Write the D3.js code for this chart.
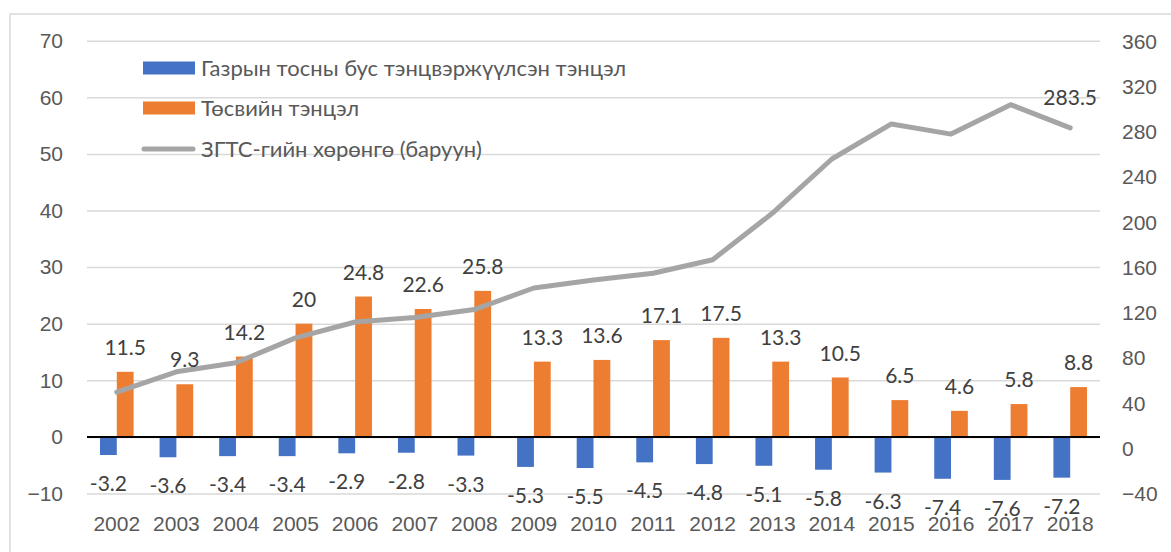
<!DOCTYPE html>
<html>
<head>
<meta charset="utf-8">
<title>Fiscal balance and FSF assets</title>
<style>
body { margin: 0; background: #fff; }
svg { font-family: Lato, "Noto Sans", sans-serif; }
.axis text { fill: #595959; font-size: 21px; }
.axis path { display: none; }
.grid line { stroke: #d9d9d9; stroke-width: 1.5px; }
.label { fill: #404040; font-size: 21px; text-anchor: middle; }
.legend text { fill: #595959; font-size: 22px; }
</style>
</head>
<body>
<script src="https://cdn.jsdelivr.net/npm/d3@7"></script>
<script>
var years = ["2002","2003","2004","2005","2006","2007","2008","2009","2010",
             "2011","2012","2013","2014","2015","2016","2017","2018"];
var nonOil = [-3.2,-3.6,-3.4,-3.4,-2.9,-2.8,-3.3,-5.3,-5.5,-4.5,-4.8,-5.1,-5.8,-6.3,-7.4,-7.6,-7.2];
var budget = [11.5,9.3,14.2,20,24.8,22.6,25.8,13.3,13.6,17.1,17.5,13.3,10.5,6.5,4.6,5.8,8.8];
var assets = [50,68,76,98,112,116,123,142,149,155,167,208,256,287,278,304,283.5];
var leftTicks = [-10,0,10,20,30,40,50,60,70];
var rightTicks = [-40,0,40,80,120,160,200,240,280,320,360];
var seriesNames = ["Газрын тосны бус тэнцвэржүүлсэн тэнцэл", "Төсвийн тэнцэл", "ЗГТС-гийн хөрөнгө (баруун)"];

var W = 1171, H = 552;
var left = 87, right = 1100;

var svg = d3.select("body").append("svg")
    .attr("width", W)
    .attr("height", H);

// chart frame (right and bottom edges fall outside the picture)
svg.append("rect")
    .attr("x", 10).attr("y", 14)
    .attr("width", 1200).attr("height", 600)
    .style("fill", "none")
    .style("stroke", "#d9d9d9")
    .style("stroke-width", 1.5);

var x = d3.scaleBand().domain(years).range([left, right]);
var bw = x.bandwidth();
var barW = bw * 0.282;
var x1 = d3.scaleBand().domain(["nonOil","budget"]).range([bw/2 - barW, bw/2 + barW]);

var yL = d3.scaleLinear().domain([-10, 70]).range([493.5, 40.7]);
var yR = d3.scaleLinear().domain([-40, 360]).range([494, 41.3]);

// left axis + gridlines
svg.append("g")
    .attr("class", "axis grid")
    .attr("transform", "translate(" + left + ",0)")
    .call(d3.axisLeft(yL).tickValues(leftTicks).tickSize(-(right - left)).tickPadding(24));

// right axis
svg.append("g")
    .attr("class", "axis")
    .attr("transform", "translate(" + right + ",0)")
    .call(d3.axisRight(yR).tickValues(rightTicks).tickSize(0).tickPadding(22));

// x axis labels
svg.append("g")
    .attr("class", "axis")
    .attr("transform", "translate(0,516)")
    .call(d3.axisBottom(x).tickSize(0).tickPadding(0));

// bars
var rows = years.map(function(y, i) { return {year: y, nonOil: nonOil[i], budget: budget[i], assets: assets[i]}; });

svg.selectAll(".bar-nonoil")
    .data(rows)
  .enter().append("rect")
    .attr("class", "bar-nonoil")
    .attr("x", function(d) { return x(d.year) + x1("nonOil"); })
    .attr("width", x1.bandwidth())
    .attr("y", yL(0))
    .attr("height", function(d) { return yL(d.nonOil) - yL(0); })
    .style("fill", "#4472c4");

svg.selectAll(".bar-budget")
    .data(rows)
  .enter().append("rect")
    .attr("class", "bar-budget")
    .attr("x", function(d) { return x(d.year) + x1("budget"); })
    .attr("width", x1.bandwidth())
    .attr("y", function(d) { return yL(d.budget); })
    .attr("height", function(d) { return yL(0) - yL(d.budget); })
    .style("fill", "#ed7d31");

// zero line
svg.append("line")
    .attr("x1", left).attr("x2", right)
    .attr("y1", yL(0)).attr("y2", yL(0))
    .style("stroke", "#000")
    .style("stroke-width", 2);

// assets line
var line = d3.line()
    .x(function(d) { return x(d.year) + bw/2; })
    .y(function(d) { return yR(d.assets); });

svg.append("path")
    .datum(rows)
    .attr("d", line)
    .style("fill", "none")
    .style("stroke", "#a5a5a5")
    .style("stroke-width", 5)
    .style("stroke-linecap", "round")
    .style("stroke-linejoin", "round");

// value labels
svg.selectAll(".lab-budget")
    .data(rows)
  .enter().append("text")
    .attr("class", "label")
    .attr("x", function(d) { return x(d.year) + x1("budget") + x1.bandwidth()/2; })
    .attr("y", function(d) { return yL(d.budget) - 24.5; })
    .attr("dy", "0.36em")
    .text(function(d) { return d.budget; });

svg.selectAll(".lab-nonoil")
    .data(rows)
  .enter().append("text")
    .attr("class", "label")
    .attr("x", function(d) { return x(d.year) + x1("nonOil") + x1.bandwidth()/2; })
    .attr("y", function(d) { return yL(d.nonOil) + 28.5; })
    .attr("dy", "0.36em")
    .text(function(d) { return d.nonOil; });

var last = rows[rows.length - 1];
svg.append("text")
    .attr("class", "label")
    .attr("x", x(last.year) + bw/2)
    .attr("y", yR(last.assets) - 30)
    .attr("dy", "0.36em")
    .text(last.assets);

// legend
var legend = svg.append("g").attr("class", "legend");
var legY = [68, 108, 149];

legend.append("rect")
    .attr("x", 143).attr("y", legY[0] - 6.5)
    .attr("width", 52).attr("height", 13)
    .style("fill", "#4472c4");
legend.append("rect")
    .attr("x", 143).attr("y", legY[1] - 6.5)
    .attr("width", 52).attr("height", 13)
    .style("fill", "#ed7d31");
legend.append("line")
    .attr("x1", 144).attr("x2", 193)
    .attr("y1", legY[2]).attr("y2", legY[2])
    .style("stroke", "#a5a5a5")
    .style("stroke-width", 5)
    .style("stroke-linecap", "round");

legend.selectAll("text")
    .data(seriesNames)
  .enter().append("text")
    .attr("x", 201)
    .attr("y", function(d, i) { return legY[i]; })
    .attr("dy", "0.36em")
    .text(function(d) { return d; });
</script>
</body>
</html>
